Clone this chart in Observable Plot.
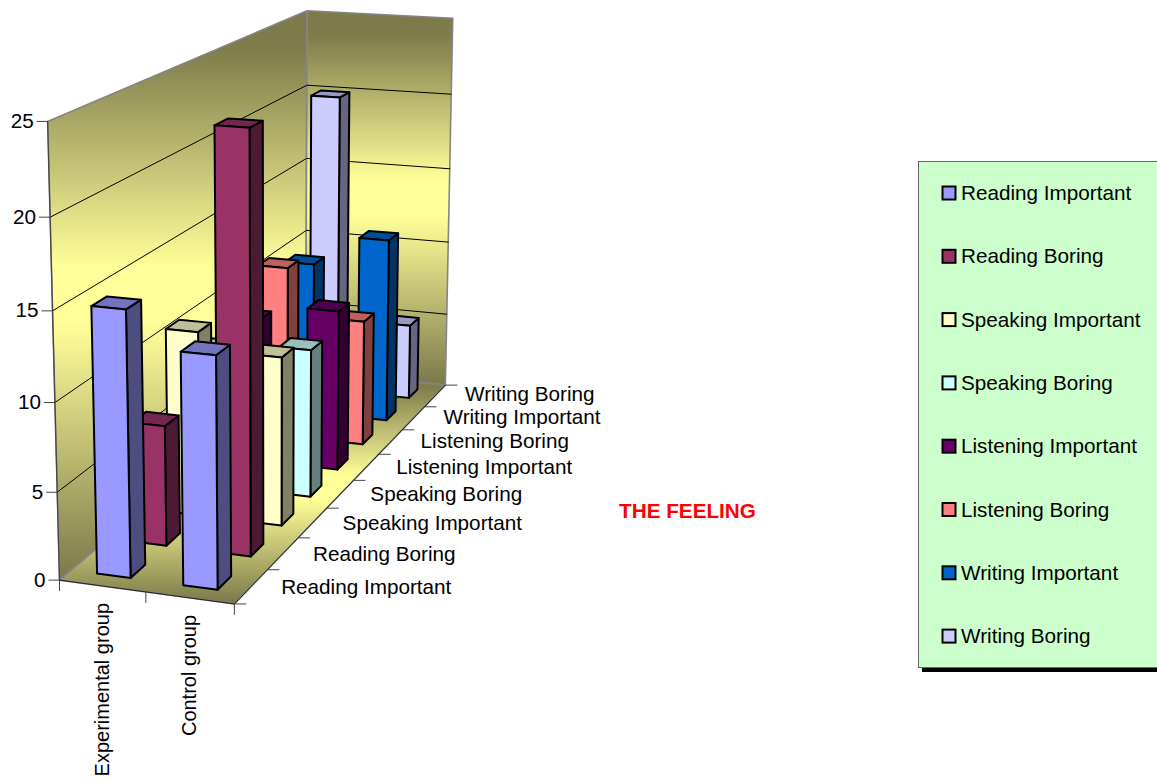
<!DOCTYPE html>
<html><head><meta charset="utf-8">
<style>html,body{margin:0;padding:0;background:#fff;overflow:hidden}</style>
<script src="https://cdn.jsdelivr.net/npm/d3@7"></script>
<script src="https://cdn.jsdelivr.net/npm/@observablehq/plot@0.6"></script>
</head><body><div id="chart"></div>
<script>
const groups = ["Experimental group", "Control group"];
const series = ["Reading Important","Reading Boring","Speaking Important","Speaking Boring","Listening Important","Listening Boring","Writing Important","Writing Boring"];
const experimental = [15, 7, 11, 8.5, 9, 11, 10, 20];
const control = [13, 24, 10, 9, 10, 8, 12, 5];
const valueTicks = [0, 5, 10, 15, 20, 25];
const frontColors = ["#9999ff","#993366","#ffffcc","#ccffff","#660066","#ff8080","#0066cc","#ccccff"];
const sideColors  = ["#4d4d80","#4d1a33","#808066","#668080","#330033","#804040","#003366","#666680"];
const topColors   = ["#7373bf","#732650","#bfbf99","#99bfbf","#4d004d","#bf6060","#004d99","#9999bf"];
const values = [experimental, control];
const maxValue = 25;

// Camera calibration: box corners (u, v, w) seen on screen (sx, sy)
const calibration = [
  [0,0,0,59,579],[1,0,0,234,604],[1,1,0,445,384],[0,1,0,305,371],
  [0,0,1,47,121],[0,1,1,307,10],[1,1,1,452,18]
];
function solve(A, b) {
  const n = b.length, M = A.map((r, i) => [...r, b[i]]);
  for (let c = 0; c < n; c++) {
    let p = c; for (let r = c + 1; r < n; r++) if (Math.abs(M[r][c]) > Math.abs(M[p][c])) p = r;
    [M[c], M[p]] = [M[p], M[c]];
    for (let r = 0; r < n; r++) if (r !== c) {
      const f = M[r][c] / M[c][c];
      for (let k = c; k <= n; k++) M[r][k] -= f * M[c][k];
    }
  }
  return M.map((r, i) => r[n] / r[i]);
}
function fitCamera() {
  const rows = [], rhs = [];
  for (const [u, v, w, sx0, sy0] of calibration) {
    const sx = sx0 / 1000, sy = sy0 / 1000;
    rows.push([u,v,w,1,0,0,0,0,-sx*u,-sx*v,-sx*w]); rhs.push(sx);
    rows.push([0,0,0,0,u,v,w,1,-sy*u,-sy*v,-sy*w]); rhs.push(sy);
  }
  const n = 11, AtA = d3.range(n).map(i => d3.range(n).map(j => d3.sum(rows, r => r[i]*r[j])));
  const Atb = d3.range(n).map(i => d3.sum(rows, (r, k) => r[i]*rhs[k]));
  return solve(AtA, Atb);
}
const P = fitCamera();
function project(u, v, value) {
  const w = value / maxValue;
  const d = P[8]*u + P[9]*v + P[10]*w + 1;
  return {x: 1000*(P[0]*u+P[1]*v+P[2]*w+P[3])/d, y: 1000*(P[4]*u+P[5]*v+P[6]*w+P[7])/d};
}

function poly(rows, id, fill, corners) {
  [...corners, corners[0]].forEach(([u, v, val]) => rows.push({id, fill, ...project(u, v, val)}));
}
// Walls and floor
const walls = [];
poly(walls, "left", "url(#panel)", [[0,0,0],[0,1,0],[0,1,maxValue],[0,0,maxValue]]);
poly(walls, "back", "url(#panel)", [[0,1,0],[1,1,0],[1,1,maxValue],[0,1,maxValue]]);
poly(walls, "floor", "url(#panel)", [[0,0,0],[1,0,0],[1,1,0],[0,1,0]]);

// Grid
const grid = [];
valueTicks.filter(t => t > 0 && t < maxValue).forEach(t => {
  [[0,0],[0,1],[1,1]].forEach(([u, v]) => grid.push({t, ...project(u, v, t)}));
});

// Bars, painted back to front
const bars = [];
const halfU = 0.098, halfV = 0.025;
d3.range(series.length - 1, -1, -1).forEach(r => {
  groups.forEach((g, i) => {
    const val = values[i][r];
    const uc = (i + 0.5) / groups.length, vc = (r + 0.5) / series.length;
    const u0 = uc - halfU, u1 = uc + halfU, v0 = vc - halfV, v1 = vc + halfV;
    const id = `${g}-${r}`;
    poly(bars, id + "-side", sideColors[r], [[u1,v0,0],[u1,v1,0],[u1,v1,val],[u1,v0,val]]);
    poly(bars, id + "-top", topColors[r], [[u0,v0,val],[u1,v0,val],[u1,v1,val],[u0,v1,val]]);
    poly(bars, id + "-front", frontColors[r], [[u0,v0,0],[u1,v0,0],[u1,v0,val],[u0,v0,val]]);
  });
});

const valueAxis = valueTicks.map(t => ({t, ...project(0, 0, t)}));
const seriesAxis = series.map((s, r) => ({s, r, ...project(1, (r + 0.5) / series.length, 0)}));
const depthTicks = d3.range(series.length + 1).map(r => project(1, r / series.length, 0));
const groupTicks = d3.range(groups.length + 1).map(i => project(i / groups.length, 0, 0));
const groupAxis = groups.map((g, i) => ({g, ...project((i + 0.5) / groups.length, 0, 0)}));

const font = "Liberation Sans, Arial, sans-serif";
const fs = 20.7;
const legendRows = series.map((s, i) => ({s, c: frontColors[i], y: 193 + i * 63.3}));

const plot = Plot.plot({
  width: 1157, height: 780, margin: 0,
  x: {domain: [0, 1157], range: [0, 1157], axis: null},
  y: {domain: [0, 780], range: [0, 780], axis: null},
  color: {type: "identity"},
  style: {background: "white"},
  marks: [
    () => {
      const defs = d3.create("svg:defs");
      const g = defs.append("linearGradient").attr("id", "panel").attr("x1", 0).attr("y1", 0).attr("x2", 0).attr("y2", 1);
      [[0, "#7c7a4a"], [0.07, "#7f7d4c"], [0.45, "#ffff99"], [0.55, "#ffff99"], [1, "#7a784a"]].forEach(([o, c]) => g.append("stop").attr("offset", o).attr("stop-color", c));
      return defs.node();
    },
    Plot.line(walls, {x: "x", y: "y", z: "id", fill: "fill", stroke: "#858585", strokeWidth: 1.6}),
    Plot.line(grid, {x: "x", y: "y", z: "t", stroke: "#000", strokeWidth: 1}),
    // axis lines
    Plot.line([project(0,0,0), project(0,0,maxValue)], {x: "x", y: "y", stroke: "#444", strokeWidth: 1.2}),
    Plot.line([project(0,0,0), project(1,0,0), project(1,1,0)], {x: "x", y: "y", stroke: "#222", strokeWidth: 1}),
    // ticks
    Plot.link(valueAxis, {x1: d => d.x - 11, x2: "x", y1: "y", y2: "y", stroke: "#444", strokeWidth: 1}),
    Plot.link(depthTicks, {x1: "x", x2: d => d.x + 12, y1: "y", y2: "y", stroke: "#444", strokeWidth: 1}),
    Plot.link(groupTicks, {x1: "x", x2: "x", y1: "y", y2: d => d.y + 11, stroke: "#444", strokeWidth: 1}),
    // bars
    Plot.line(bars, {x: "x", y: "y", z: "id", fill: "fill", stroke: "#000", strokeWidth: 2}),
    // labels
    Plot.text(valueAxis, {x: d => d.x - 14, y: "y", text: d => String(d.t), textAnchor: "end", fontSize: fs, fontFamily: font, fill: "#000"}),
    Plot.text(seriesAxis, {x: d => d.x + 30, y: d => d.y + 1 - d.r * 0.3, text: "s", textAnchor: "start", fontSize: fs, fontFamily: font, fill: "#000"}),
    Plot.text(groupAxis, {x: "x", y: d => d.y + 17, text: "g", rotate: -90, textAnchor: "end", fontSize: 20, fontFamily: font, fill: "#000"}),
    Plot.text(["THE FEELING"], {x: () => 687, y: () => 511, text: d => d, fontSize: fs, fontWeight: "bold", fontFamily: font, fill: "#ff0000"}),
    // legend
    Plot.rect([0], {x1: () => 922, x2: () => 1170, y1: () => 165, y2: () => 672, fill: "#000"}),
    Plot.rect([0], {x1: () => 918.5, x2: () => 1170, y1: () => 161.5, y2: () => 667.5, fill: "#ccffcc", stroke: "#666", strokeWidth: 1}),
    Plot.rect(legendRows, {x1: () => 942.5, x2: () => 955.5, y1: d => d.y - 6.5, y2: d => d.y + 6.5, fill: "c", stroke: "#000", strokeWidth: 2}),
    Plot.text(legendRows, {x: () => 960.5, y: "y", text: "s", textAnchor: "start", fontSize: fs, fontFamily: font, fill: "#000"})
  ]
});
document.getElementById("chart").appendChild(plot);
</script></body></html>
